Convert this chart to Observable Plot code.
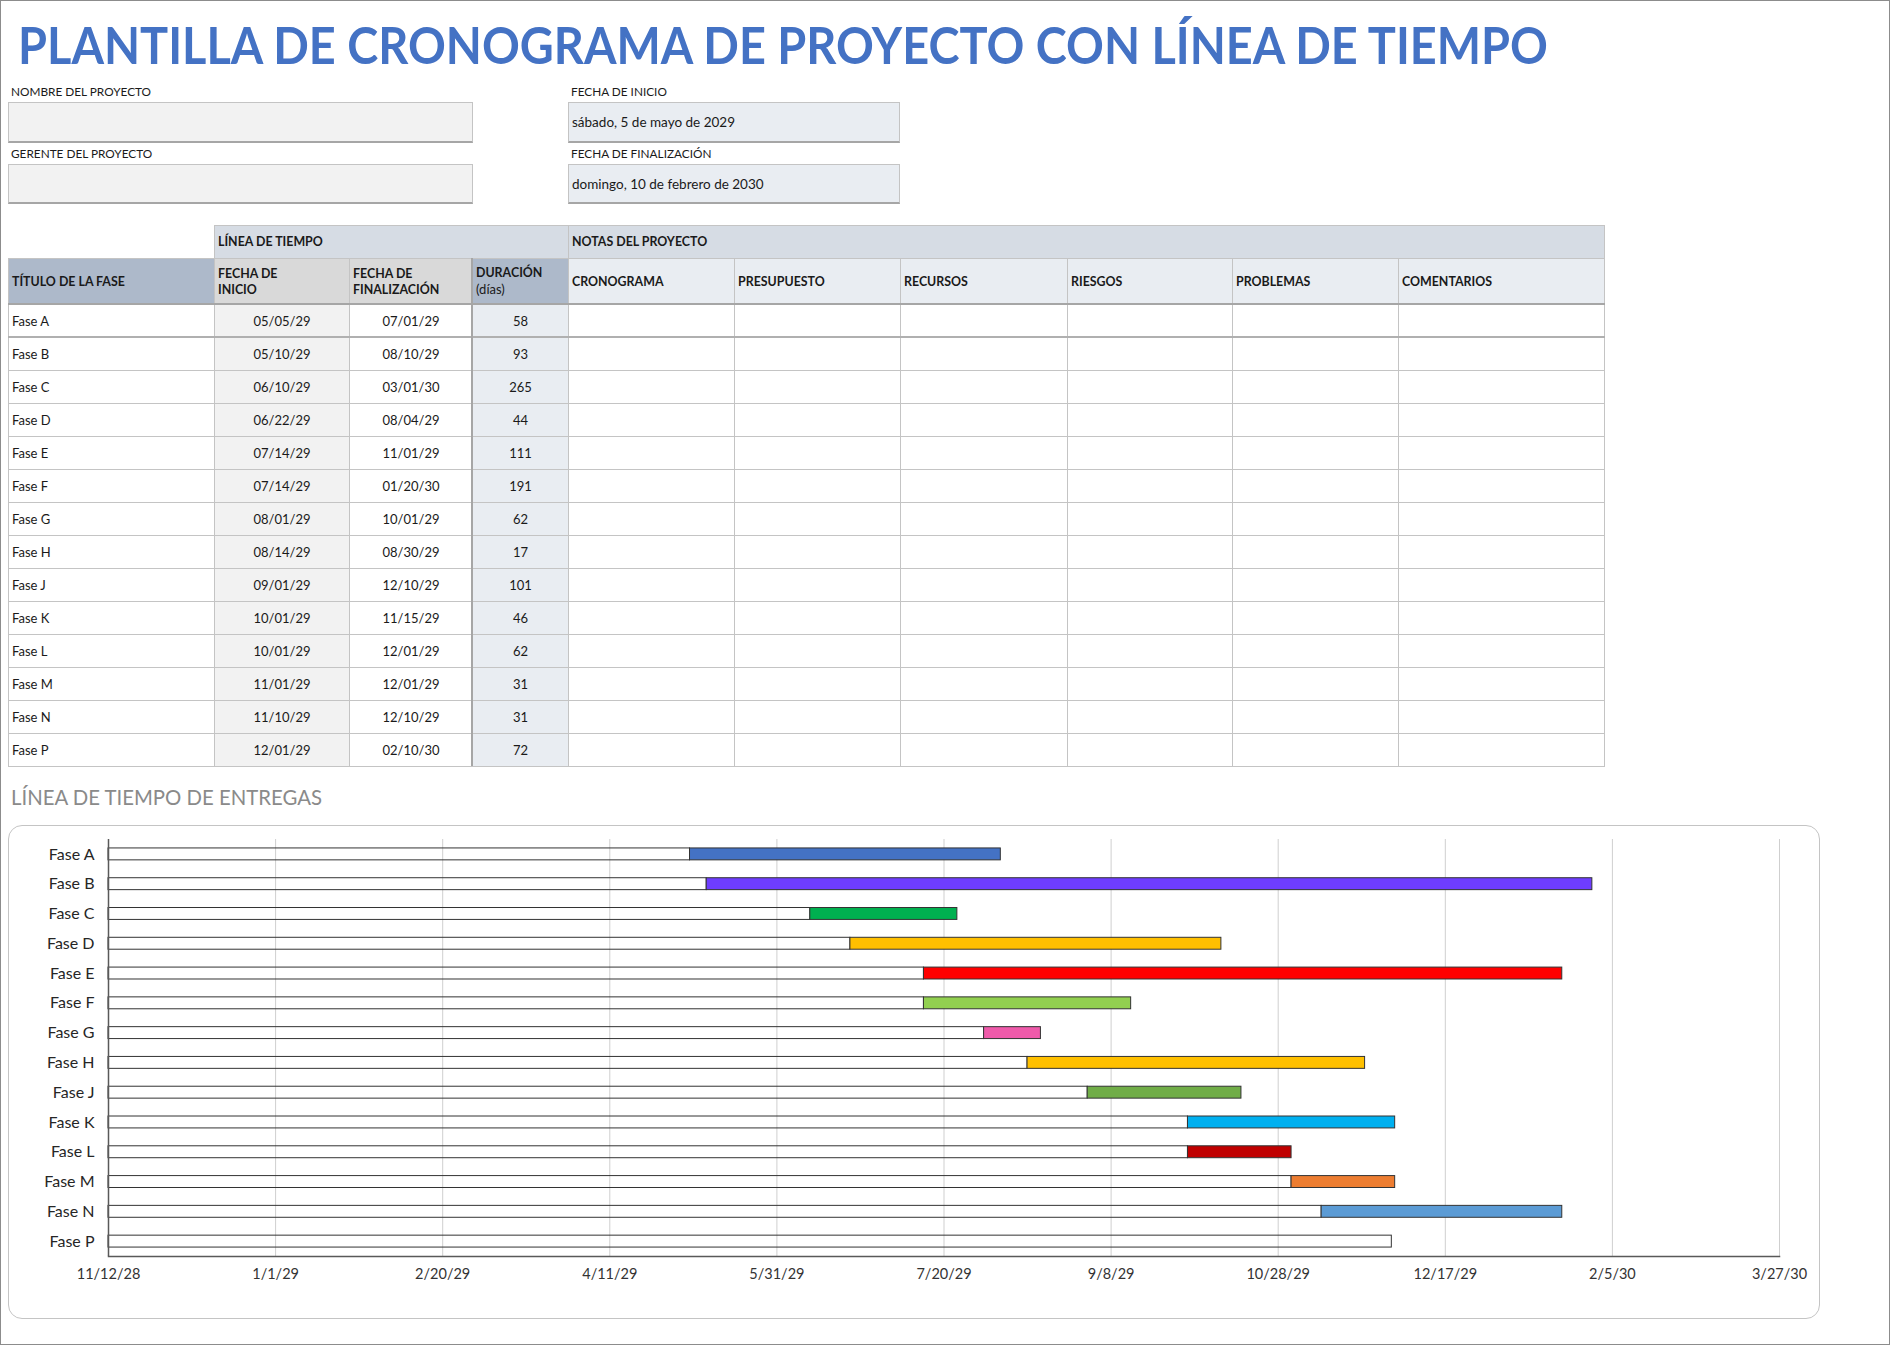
<!DOCTYPE html>
<html>
<head>
<meta charset="utf-8">
<script src="https://cdn.jsdelivr.net/npm/d3@7"></script>
<script src="https://cdn.jsdelivr.net/npm/@observablehq/plot@0.6"></script>
<style>
  body { margin: 0; background: #fff; font-family: Lato, "Noto Sans", sans-serif; color: #1a1a1a; }
  #page { position: relative; width: 1890px; height: 1345px; box-sizing: border-box; border: 1px solid #8c8c8c; overflow: hidden; background: #fff; }
  .abs { position: absolute; }
  .lbl { position: absolute; font-size: 11.8px; line-height: 15px; white-space: nowrap; color: #1a1a1a; }
  .box { position: absolute; box-sizing: border-box; border: 1px solid #c4c4c4; border-bottom: 2px solid #a6a6a6; font-size: 13.5px; display: flex; align-items: center; padding-left: 3px; white-space: nowrap; }
  .cell { position: absolute; box-sizing: border-box; border: 1px solid #c4c4c4; display: flex; align-items: center; overflow: hidden; white-space: nowrap; font-size: 13px; }
  .hd { font-weight: 700; font-size: 12.4px; line-height: 16px; padding-left: 3px; }
  .ctr { justify-content: center; }
  .pl { padding-left: 3px; }
  #chartbox { position: absolute; left: 7px; top: 824px; width: 1812px; height: 494px; box-sizing: border-box; border: 1.5px solid #c4c4c4; border-radius: 14px; pointer-events: none; }
  #plot { position: absolute; left: 7px; top: 824px; }
</style>
</head>
<body>
<div id="page">
  <svg class="abs" style="left:0;top:0" width="1890" height="80">
    <text x="17" y="63" textLength="1530" lengthAdjust="spacingAndGlyphs" font-size="52" font-weight="700" fill="#4472C4" font-family="Lato, sans-serif">PLANTILLA DE CRONOGRAMA DE PROYECTO CON LÍNEA DE TIEMPO</text>
  </svg>
  <div class="lbl" style="left:10px;top:83px">NOMBRE DEL PROYECTO</div>
  <div class="box" style="left:7px;top:101px;width:465px;height:41px;background:#f2f2f2"></div>
  <div class="lbl" style="left:10px;top:145px">GERENTE DEL PROYECTO</div>
  <div class="box" style="left:7px;top:163px;width:465px;height:40px;background:#f2f2f2"></div>
  <div class="lbl" style="left:570px;top:83px">FECHA DE INICIO</div>
  <div class="box" id="startBox" style="left:567px;top:101px;width:332px;height:41px;background:#e9edf2"></div>
  <div class="lbl" style="left:570px;top:145px">FECHA DE FINALIZACIÓN</div>
  <div class="box" id="endBox" style="left:567px;top:163px;width:332px;height:40px;background:#e9edf2"></div>
  <div id="table"></div>
  <svg class="abs" style="left:0;top:770px" width="600" height="50">
    <text x="10" y="34" textLength="311" lengthAdjust="spacingAndGlyphs" font-size="22" fill="#8a8a8a" font-family="Lato, sans-serif">LÍNEA DE TIEMPO DE ENTREGAS</text>
  </svg>
  <div id="plot"></div>
  <div id="chartbox"></div>
</div>
<script>
// ---------- DATA ----------
const projectStart = "sábado, 5 de mayo de 2029";
const projectEnd = "domingo, 10 de febrero de 2030";
const phases = ["Fase A","Fase B","Fase C","Fase D","Fase E","Fase F","Fase G","Fase H","Fase J","Fase K","Fase L","Fase M","Fase N","Fase P"];
const startDates = ["05/05/29","05/10/29","06/10/29","06/22/29","07/14/29","07/14/29","08/01/29","08/14/29","09/01/29","10/01/29","10/01/29","11/01/29","11/10/29","12/01/29"];
const endDates = ["07/01/29","08/10/29","03/01/30","08/04/29","11/01/29","01/20/30","10/01/29","08/30/29","12/10/29","11/15/29","12/01/29","12/01/29","12/10/29","02/10/30"];
const durations = [58,93,265,44,111,191,62,17,101,46,62,31,31,72];
// Length (days) of each coloured bar as drawn in the chart
const chartBarDays = [93,265,44,111,191,62,17,101,46,62,31,31,72,0];
const barColors = ["#4472C4","#6E3DFF","#00B050","#FFC000","#FF0000","#92D050","#EF5AAA","#FFC000","#70AD47","#00B0F0","#C00000","#ED7D31","#5B9BD5","none"];
const axisTicks = ["11/12/28","1/1/29","2/20/29","4/11/29","5/31/29","7/20/29","9/8/29","10/28/29","12/17/29","2/5/30","3/27/30"];
const noteColumns = ["CRONOGRAMA","PRESUPUESTO","RECURSOS","RIESGOS","PROBLEMAS","COMENTARIOS"];

// ---------- INFO BOXES ----------
document.getElementById("startBox").textContent = projectStart;
document.getElementById("endBox").textContent = projectEnd;

// ---------- TABLE ----------
const page = document.getElementById("table");
const colX = [7,213,348,471,567,733,899,1066,1231,1397,1603];
function cell(x0, x1, y0, y1, html, cls, bg) {
  const d = document.createElement("div");
  d.className = "cell " + (cls || "");
  d.style.left = x0 + "px"; d.style.top = y0 + "px";
  d.style.width = (x1 - x0 + 1) + "px"; d.style.height = (y1 - y0 + 1) + "px";
  if (bg) d.style.background = bg;
  d.innerHTML = "<div>" + html + "</div>";
  page.appendChild(d);
  return d;
}
// header row 1
cell(colX[1], colX[4], 224, 257, "LÍNEA DE TIEMPO", "hd", "#d6dce4");
cell(colX[4], colX[10], 224, 257, "NOTAS DEL PROYECTO", "hd", "#d6dce4");
// header row 2
cell(colX[0], colX[1], 257, 303, "TÍTULO DE LA FASE", "hd", "#adb9ca");
cell(colX[1], colX[2], 257, 303, "FECHA DE<br>INICIO", "hd", "#d9d9d9");
cell(colX[2], colX[3], 257, 303, "FECHA DE<br>FINALIZACIÓN", "hd", "#d9d9d9");
cell(colX[3], colX[4], 257, 303, "DURACIÓN<br><span style='font-weight:400;font-size:13px'>(días)</span>", "hd", "#adb9ca");
noteColumns.forEach((n, i) => cell(colX[4 + i], colX[5 + i], 257, 303, n, "hd", "#e9edf2"));
// data rows
phases.forEach((p, i) => {
  const y0 = 303 + i * 33, y1 = y0 + 33;
  cell(colX[0], colX[1], y0, y1, p, "pl", "#fff");
  cell(colX[1], colX[2], y0, y1, startDates[i], "ctr", "#f2f2f2");
  cell(colX[2], colX[3], y0, y1, endDates[i], "ctr", "#fff");
  cell(colX[3], colX[4], y0, y1, String(durations[i]), "ctr", "#e9edf2");
  noteColumns.forEach((n, j) => cell(colX[4 + j], colX[5 + j], y0, y1, "", "", "#fff"));
});
// heavier separators
function line(x, y, w, h, c) {
  const d = document.createElement("div");
  d.className = "abs";
  Object.assign(d.style, {left: x + "px", top: y + "px", width: w + "px", height: h + "px", background: c});
  page.appendChild(d);
}
line(colX[0], 302, colX[10] - colX[0] + 1, 2, "#a6a6a6");
line(colX[0], 335, colX[10] - colX[0] + 1, 2, "#b0b0b0");
line(colX[3] - 1, 257, 2, 764 - 257 + 1, "#a6a6a6");

// ---------- CHART ----------
const parseMDY = s => { const [m, d, y] = s.split("/").map(Number); return new Date(Date.UTC(2000 + y, m - 1, d)); };
const tickDates = axisTicks.map(parseMDY);
const origin = tickDates[0];
const DAY = 86400000;
const rows = phases.map((p, i) => {
  const s = parseMDY(startDates[i]);
  return {phase: p, origin, start: s, end: new Date(+s + chartBarDays[i] * DAY), days: chartBarDays[i], color: barColors[i]};
});
const fmt = d => `${d.getUTCMonth() + 1}/${d.getUTCDate()}/${String(d.getUTCFullYear()).slice(2)}`;

const chart = Plot.plot({
  width: 1812,
  height: 494,
  marginLeft: 100,
  marginRight: 41,
  marginTop: 14,
  marginBottom: 63,
  style: {fontFamily: "Lato, sans-serif", fontSize: "14.5px", color: "#333", background: "transparent", overflow: "visible"},
  x: {type: "utc", domain: [tickDates[0], tickDates[tickDates.length - 1]], ticks: tickDates, tickFormat: fmt, tickSize: 0, tickPadding: 12, label: null},
  y: {domain: phases, paddingInner: 0.6, paddingOuter: 0.3, round: false, tickSize: 0, tickPadding: 14, label: null},
  marks: [
    Plot.ruleX(tickDates, {stroke: "#cfcfcf", strokeWidth: 1}),
    Plot.barX(rows, {x1: "origin", x2: "start", y: "phase", fill: "none", stroke: "#333", strokeWidth: 1}),
    Plot.barX(rows.filter(d => d.days > 0), {x1: "start", x2: "end", y: "phase", fill: "color", stroke: "#333", strokeWidth: 1}),
    Plot.ruleX([origin], {stroke: "#595959", strokeWidth: 1.5}),
    Plot.frame({anchor: "bottom", stroke: "#595959", strokeWidth: 1.5})
  ]
});
d3.select(chart).selectAll('g[aria-label="y-axis tick label"]').attr("font-size", 16).attr("fill", "#262626");
document.getElementById("plot").appendChild(chart);
</script>
</body>
</html>
